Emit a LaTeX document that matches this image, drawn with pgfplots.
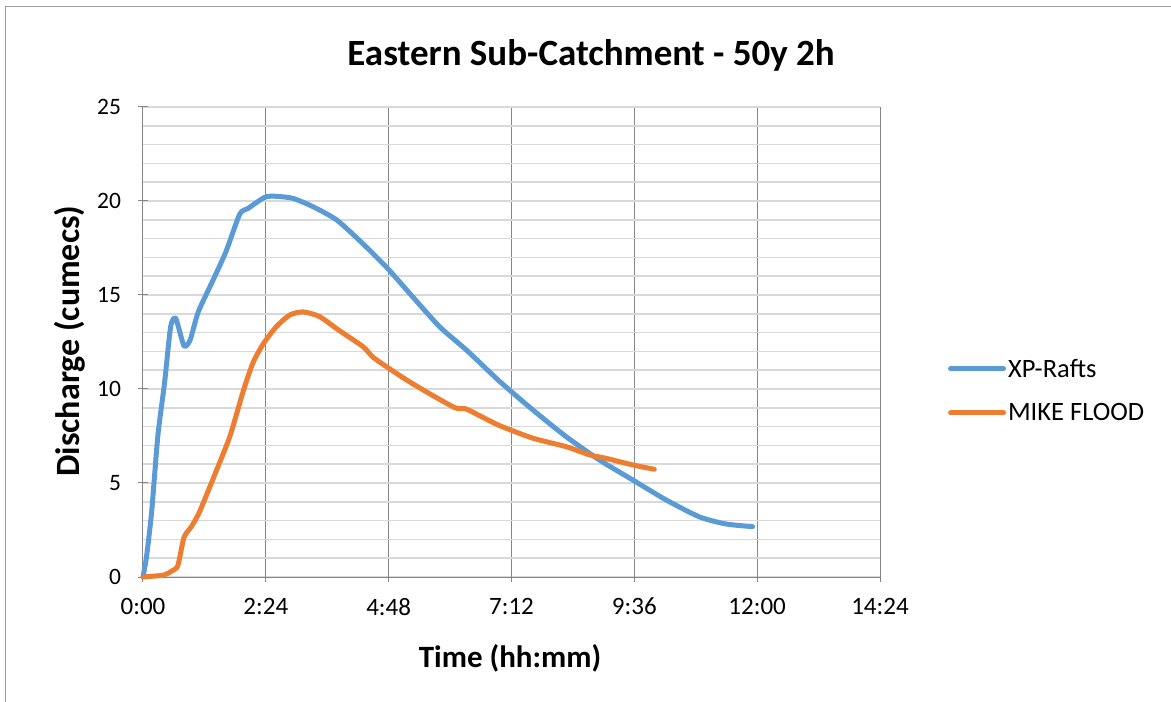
\documentclass[border=0pt]{standalone}
\usepackage{fontspec}
\setmainfont{Carlito}
\usepackage{pgfplots}
\pgfplotsset{compat=1.18}
\definecolor{xpblue}{HTML}{5B9BD5}
\definecolor{mikeor}{HTML}{ED7D31}
\definecolor{gridlt}{HTML}{D9D9D9}
\definecolor{griddk}{HTML}{868686}
\begin{document}
\begin{tikzpicture}
\useasboundingbox (0,0) rectangle (1171pt,702pt);
\draw[griddk!80, line width=1pt] (5pt,0pt) -- (5pt,695pt) -- (1171pt,695pt);
\begin{axis}[
  at={(143pt,125pt)}, anchor=origin,
  scale only axis, width=737pt, height=470pt,
  xmin=0, xmax=14.4, ymin=0, ymax=25,
  xtick={0,2.4,4.8,7.2,9.6,12,14.4},
  xticklabels={0:00,2:24,4:48,7:12,9:36,12:00,14:24},
  ytick={0,5,10,15,20,25},
  minor y tick num=4,
  minor tick length=0pt,
  major tick length=10pt,
  tick align=outside,
  tick style={griddk, line width=1pt},
  axis lines=left,
  axis line style={griddk, line width=1pt, -},
  xmajorgrids, ymajorgrids, yminorgrids,
  major x grid style={griddk, line width=1pt},
  major y grid style={gridlt, line width=1.6pt},
  minor y grid style={gridlt, line width=1.6pt},
  /pgf/number format/assume math mode=true,
  xticklabel style={font=\fontsize{25}{30}\selectfont, black, yshift=-12.5pt},
  yticklabel style={font=\fontsize{23.5}{28}\selectfont, black, xshift=-13.5pt},
  title={\textbf{Eastern Sub-Catchment - 50y 2h}},
  title style={font=\fontsize{37}{44}\selectfont, at={(rel axis cs:0.608,1.0745)}, anchor=base},
  xlabel={\textbf{Time (hh:mm)}},
  xlabel style={font=\fontsize{31}{37}\selectfont, at={(rel axis cs:0.498,-0.1936)}, anchor=base},
  ylabel={\textbf{Discharge (cumecs)}},
  ylabel style={font=\fontsize{34}{40}\selectfont, at={(rel axis cs:-0.0855,0.502)}, anchor=base},
  legend style={at={(rel axis cs:1.088,0.473)}, anchor=north west, draw=none, fill=none,
    font=\fontsize{26.5}{31}\selectfont, row sep=21pt},
  legend cell align=left,
  legend image code/.code={\draw[#1, line cap=round] (0pt,0pt) -- (53pt,0pt);},
  clip=false,
]
\addplot[xpblue, line width=5pt, smooth, tension=0.4, line cap=round, line join=round] coordinates {
(0,0) (0.07,1.1) (0.17,3.5) (0.29,7.5) (0.42,10.3) (0.54,13.3) (0.64,13.75)
(0.8,12.3) (0.92,12.6) (1.08,14.1) (1.37,15.8) (1.62,17.3) (1.89,19.3)
(2.05,19.6) (2.38,20.2) (2.6,20.25) (2.93,20.14) (3.32,19.7) (3.78,19.0)
(4.23,17.9) (4.75,16.5) (5.27,14.9) (5.8,13.3) (6.32,12.07) (6.97,10.4)
(7.62,8.88) (8.27,7.46) (8.92,6.22) (9.57,5.16) (10.22,4.1) (10.87,3.2)
(11.39,2.82) (11.91,2.68)
};
\addlegendentry{XP-Rafts}
\addplot[mikeor, line width=5pt, smooth, tension=0.4, line cap=round, line join=round] coordinates {
(0,0) (0.4,0.1) (0.55,0.3) (0.68,0.6) (0.8,2.1) (0.95,2.7) (1.11,3.5)
(1.44,5.7) (1.7,7.5) (1.96,9.9) (2.15,11.4) (2.35,12.4) (2.6,13.3)
(2.87,13.94) (3.13,14.1) (3.45,13.85) (3.84,13.1) (4.3,12.25) (4.49,11.7)
(4.75,11.2) (5.15,10.48) (5.6,9.75) (6.1,9.0) (6.3,8.95) (6.6,8.55)
(6.97,8.05) (7.62,7.38) (8.27,6.93) (8.72,6.5) (9.05,6.31) (9.57,5.96) (9.99,5.73)
};
\addlegendentry{MIKE FLOOD}
\end{axis}
\end{tikzpicture}
\end{document}
